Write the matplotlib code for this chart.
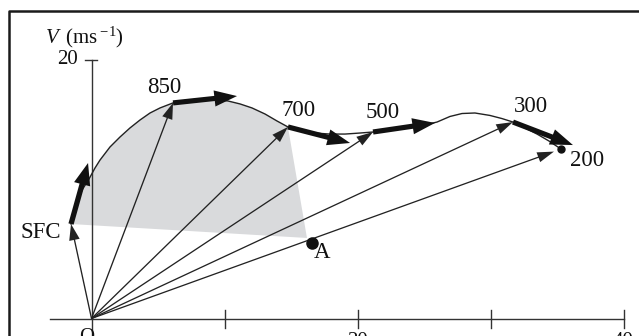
import matplotlib
matplotlib.use("Agg")
import matplotlib.pyplot as plt
from matplotlib.patches import Polygon, FancyArrow
from matplotlib.lines import Line2D

plt.rcParams['font.family'] = ['Liberation Serif', 'DejaVu Serif']
plt.rcParams['mathtext.fontset'] = 'custom'
plt.rcParams['mathtext.rm'] = 'Liberation Serif'
plt.rcParams['mathtext.it'] = 'Liberation Serif:italic'

# hodograph, wind (u, v) in m/s at each pressure level
levels = ["SFC", "850", "700", "500", "300", "200"]
level_u = [-1.54, 6.13, 14.77, 21.17, 31.69, 35.30]
level_v = [7.31, 16.68, 14.82, 14.43, 15.20, 13.11]

# tips of the thick shear arrows leaving SFC..300
shear_u = [-0.26, 10.94, 19.44, 25.83, 36.20]
shear_v = [12.03, 17.21, 13.58, 15.13, 13.42]

# hodograph trace (SFC -> 200)
curve_u = [-1.54, -1.17, -0.71, -0.19, 0.26, 0.64, 1.39, 2.14, 2.89, 3.65, 4.40, 5.15, 6.13,
           7.03, 8.16, 9.29, 10.26, 11.17, 12.07, 13.05, 13.95, 14.77,
           15.68, 16.80, 17.93, 19.06, 20.19, 21.17,
           22.44, 23.57, 24.70, 25.98, 26.95, 27.86, 28.83, 29.96, 30.86, 31.69,
           32.59, 33.50, 34.40, 35.30]
curve_v = [7.31, 8.78, 9.94, 10.79, 11.64, 12.26, 13.27, 14.04, 14.74, 15.36, 15.90, 16.29, 16.68,
           16.87, 16.99, 16.94, 16.83, 16.60, 16.29, 15.82, 15.28, 14.82,
           14.55, 14.35, 14.27, 14.27, 14.35, 14.43,
           14.58, 14.74, 14.89, 15.20, 15.63, 15.86, 15.90, 15.71, 15.47, 15.20,
           14.74, 14.27, 13.73, 13.11]

# point A (storm motion) and lower-right corner of the shaded area
storm_u, storm_v = 16.58, 5.84
shade_u, shade_v = 16.20, 6.23

xticks = [10, 20, 30, 40]
xtick_labels = {20: "20", 40: "40"}
ytop = 20

# pixel layout of the original (origin and px per m/s)
W, H = 639, 336
OX, OY = 91.5, 318.5
SX, SY = 13.3, 12.925

fig = plt.figure(figsize=(W / 100, H / 100), dpi=100)
ax = fig.add_axes([0, 0, 1, 1])
ax.set_xlim(-OX / SX, (W - OX) / SX)
ax.set_ylim(-(H - OY) / SY, OY / SY)
ax.axis("off")

ink = "#222222"

# frame (top and left edges only are inside the picture)
fig.add_artist(Line2D([9 / W, 9 / W, 1.0], [0.0, 1 - 11 / H, 1 - 11 / H],
                      transform=fig.transFigure, color="#1a1a1a", lw=1.8))

# shaded area SFC -> 700 -> A
i700 = curve_u.index(level_u[2])
poly = list(zip(curve_u[:i700 + 1], curve_v[:i700 + 1])) + [(shade_u, shade_v)]
ax.add_patch(Polygon(poly, closed=True, fc="#d9dadc", ec="none", zorder=1))

# axes
ax.plot([(50 - OX) / SX, xticks[-1]], [0, 0], color="#333333", lw=1.0, zorder=2)
ax.plot([0, 0], [-3, ytop], color="#333333", lw=1.0, zorder=2)
for xt in xticks:
    ax.plot([xt, xt], [0.66, -0.73], color="#333333", lw=1.0, zorder=2)
ax.plot([-0.49, 0.41], [ytop, ytop], color="#333333", lw=1.0, zorder=2)

ax.text(-1.05, ytop, "20", ha="right", va="center", fontsize=15, color="#111")
ax.text(-0.35, -1.45, "O", ha="center", va="center", fontsize=15, color="#111")
for xt, lab in xtick_labels.items():
    ax.text(xt, -1.75, lab, ha="center", va="center", fontsize=15, color="#111")
ax.text(-3.5, 21.75, r"$V\,$ (ms$^{\;\mathrm{-1}}$)", ha="left", va="center",
        fontsize=15, color="#111")

# hodograph trace
ax.plot(curve_u, curve_v, color=ink, lw=1.0, zorder=3, solid_joinstyle="round")

# wind vectors from the origin
for k, (u, v) in enumerate(zip(level_u, level_v)):
    f = 0.985 if k == len(level_u) - 1 else 1.0
    ax.add_patch(FancyArrow(0, 0, u * f, v * f, width=0.1, head_width=0.8,
                            head_length=1.25, length_includes_head=True,
                            color=ink, lw=0, zorder=4))

# shear arrows
for u0, v0, u1, v1 in zip(level_u, level_v, shear_u, shear_v):
    ax.add_patch(FancyArrow(u0, v0, u1 - u0, v1 - v0, width=0.4, head_width=1.25,
                            head_length=1.7, length_includes_head=True,
                            color="#111111", lw=0, zorder=5))

ax.plot(level_u[-1], level_v[-1], "o", ms=5, color="#111", zorder=6)
ax.plot(storm_u, storm_v, "o", ms=8, color="#111", zorder=6)

# level labels
offsets = {"SFC": (-22, -6), "850": (-6.5, 11), "700": (8, 12), "500": (7, 14),
           "300": (13, 11.5), "200": (19, -8)}
for name, u, v in zip(levels, level_u, level_v):
    ax.annotate(name, (u, v), xytext=offsets[name], textcoords="offset points",
                ha="center", va="center", fontsize=16.5, color="#111")
ax.annotate("A", (storm_u, storm_v), xytext=(7, -7), textcoords="offset points",
            ha="center", va="center", fontsize=16.5, color="#111")

fig.savefig("out.png", dpi=100)
